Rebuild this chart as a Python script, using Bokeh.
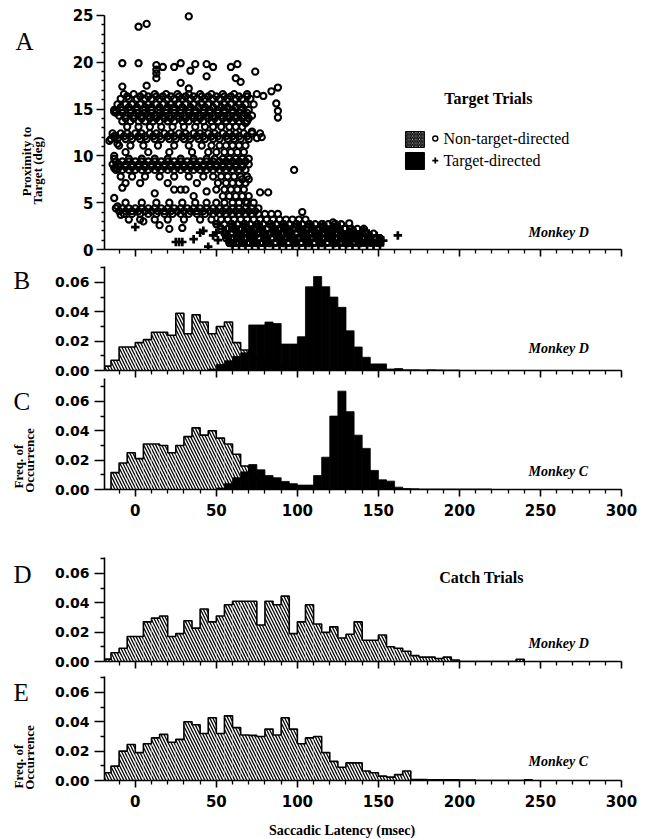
import math
from bokeh.plotting import figure
from bokeh.layouts import column, row
from bokeh.models import Range1d, FixedTicker, Label, PrintfTickFormatter
from bokeh.embed import file_html
from bokeh.resources import INLINE

# ---------------- data ----------------
BIN0 = -20.0   # left edge of first histogram bin (ms)
BINW = 5.0     # bin width (ms)

# Panel B (target trials, Monkey D)
b_nontarget = [0.003, 0.007, 0.016, 0.016, 0.019, 0.021, 0.026, 0.026, 0.024, 0.039,
               0.025, 0.038, 0.033, 0.025, 0.030, 0.033, 0.019, 0.014, 0.010, 0.007,
               0.005, 0.003, 0.002, 0.001]
b_target = [0, 0, 0, 0, 0, 0, 0, 0, 0, 0, 0, 0, 0, 0.001, 0.004, 0.0066, 0.0095, 0.012,
            0.031, 0.031, 0.033, 0.032, 0.018, 0.018, 0.023, 0.057, 0.064, 0.057, 0.050,
            0.043, 0.027, 0.016, 0.009, 0.0045, 0.0045, 0.001, 0.0013, 0.0005, 0.0005,
            0.0004, 0.0005, 0.0004, 0.0003, 0.0003]

# Panel C (target trials, Monkey C)
c_nontarget = [0, 0.0115, 0.018, 0.025, 0.021, 0.031, 0.031, 0.030, 0.025, 0.030,
               0.036, 0.042, 0.037, 0.040, 0.035, 0.031, 0.024, 0.016, 0.010, 0.006,
               0.003, 0.002, 0.001]
c_target = [0, 0, 0, 0, 0, 0, 0, 0, 0, 0, 0, 0, 0, 0, 0.001, 0.004, 0.008, 0.012,
            0.017, 0.0134, 0.0095, 0.008, 0.0055, 0.004, 0.003, 0.003, 0.0095, 0.022,
            0.050, 0.067, 0.053, 0.037, 0.028, 0.013, 0.0066, 0.0057, 0.0016, 0.0007,
            0.0005, 0.0003, 0.0003, 0.0003, 0.0003, 0.0003, 0.0003, 0.0003, 0.0003, 0.0003]

# Panel D (catch trials, Monkey D)
d_catch = [0.0016, 0.006, 0.009, 0.017, 0.017, 0.027, 0.0295, 0.031, 0.017, 0.019,
           0.0277, 0.0227, 0.0357, 0.027, 0.031, 0.0386, 0.041, 0.041, 0.041, 0.0248,
           0.041, 0.0386, 0.0445, 0.019, 0.027, 0.0386, 0.0255, 0.0198, 0.0236, 0.016,
           0.0186, 0.027, 0.0145, 0.0145, 0.018, 0.010, 0.009, 0.007, 0.004, 0.003,
           0.003, 0.002, 0.003, 0.001, 0, 0, 0, 0, 0, 0, 0, 0.0015]

# Panel E (catch trials, Monkey C)
e_catch = [0.0053, 0.0098, 0.020, 0.0245, 0.019, 0.025, 0.029, 0.0314, 0.026, 0.028,
           0.040, 0.038, 0.032, 0.0427, 0.032, 0.044, 0.036, 0.031, 0.0307, 0.030,
           0.035, 0.031, 0.0427, 0.035, 0.025, 0.029, 0.030, 0.019, 0.013, 0.009,
           0.012, 0.012, 0.0065, 0.0053, 0.003, 0.0023, 0.004, 0.0065, 0.0007, 0.0007,
           0.0005, 0.0005, 0.0004, 0.0004, 0.0003, 0.0003, 0, 0, 0, 0, 0, 0, 0.0005]

# Panel A scatter: non-target-directed (circles), isolated points
nt_x = [2, 7, 33, -8, 2, 13, 13, 13, 13, 17, 24, 28, 34, 37, 44, 44, 48, 59, 63, 62, 65, 74,
        -8, 7, 28, 33, 88, 84, 79, 87, 88, 88, 98, 103, 122, 132, -16, -13, -13, -11, -13,
        -13, -11, -13, -11, -8, 12, 28, 31, 44, 21, 29, 15, 5, -9, 77, 82, 68, 70, 66, 75,
        78, 72, 68, 70]
nt_y = [23.8, 24.1, 24.9, 19.9, 19.9, 19.7, 19.2, 18.8, 18.3, 19.5, 19.5, 19.9, 19.1, 19.8,
        19.8, 18.5, 19.5, 19.5, 19.8, 18.3, 17.9, 19.0, 17.4, 17.5, 17.8, 17.2, 17.3, 16.9,
        16.4, 15.6, 14.8, 14.1, 8.5, 4.0, 2.9, 2.8, 11.6, 14.7, 12.1, 11.3, 10.0, 8.7, 8.6,
        5.5, 4.6, 6.6, 6.0, 6.4, 6.4, 6.2, 2.2, 2.3, 2.6, 3.0, 3.7, 6.1, 6.1, 5.1, 7.5, 7.5,
        11.9, 12.0, 12.6, 13.5, 14.0]

# Panel A scatter: non-target-directed, dense bands (row proximity, latencies)
band_y = [16.6, 16.35, 16.1, 15.5, 15.2, 14.9, 14.6, 14.3, 14.0, 13.7, 13.1, 12.4, 12.1,
          11.8, 11.1, 10.4, 9.7, 9.4, 9.1, 8.8, 8.5, 7.8, 7.1, 6.4, 5.7, 5.0, 4.4, 4.1, 3.8,
          3.2, 2.7, 2.2, 1.7, 1.2, 0.7]
band_x = [
    [-7, -1, 5, 12, 19, 26, 33, 40, 47, 54, 61, 69, 75],
    [-5, 3, 8, 13, 17, 22, 27, 31, 36, 41, 45, 50, 55, 59, 64, 69],
    [-9, -4, 1, 6, 10, 15, 20, 24, 29, 34, 38, 43, 48, 52, 57, 62, 66, 71],
    [-11, -6, -2, 3, 8, 13, 17, 22, 27, 31, 36, 41, 45, 50, 55, 59, 64, 68, 73],
    [-9, -4, 1, 6, 10, 15, 20, 24, 29, 34, 39, 43, 48, 53, 57, 62, 66],
    [-13, -8, -3, 1, 5, 10, 14, 19, 24, 28, 33, 37, 42, 46, 51, 55, 60, 65, 70],
    [-12, -8, -3, 2, 6, 10, 15, 19, 24, 28, 33, 37, 42, 46, 51, 55, 60, 64, 69],
    [-10, -6, -1, 4, 8, 12, 17, 21, 26, 30, 35, 39, 44, 48, 53, 57, 62, 67, 72],
    [-6, -1, 4, 9, 13, 18, 22, 27, 31, 36, 40, 45, 49, 54, 58, 62, 66],
    [-8, -3, 2, 6, 11, 15, 20, 24, 29, 33, 38, 42, 47, 51, 56, 60, 64, 69],
    [-5, 2, 9, 16, 23, 30, 37, 43, 48, 53, 58, 62, 66],
    [-14, -9, -5, 0, 4, 9, 13, 18, 22, 27, 31, 36, 40, 45, 49, 54, 58, 62, 67, 72, 77],
    [-12, -7, -3, 2, 6, 11, 15, 20, 24, 29, 33, 38, 42, 47, 51, 56, 60, 64, 69],
    [-15, -11, -6, -2, 3, 7, 12, 16, 21, 25, 30, 34, 39, 43, 48, 52, 57, 61, 65, 70],
    [-10, -3, 5, 14, 24, 33, 41, 47, 52, 56, 60, 64, 68],
    [-6, 8, 21, 35, 45, 50, 55, 59, 63, 67],
    [-13, -4, 4, 12, 20, 28, 36, 44, 49, 54, 58, 62, 66, 70],
    [-12, -8, -4, 0, 4, 8, 12, 16, 20, 24, 28, 32, 36, 40, 44, 48, 52, 56, 60, 64, 68],
    [-14, -10, -6, -2, 2, 6, 10, 14, 18, 22, 26, 30, 34, 38, 42, 46, 50, 54, 58, 62, 66, 70],
    [-10, -6, -2, 2, 6, 10, 14, 18, 22, 26, 30, 34, 38, 42, 46, 50, 54, 58, 62, 66],
    [-12, -8, -4, 0, 4, 8, 12, 16, 20, 24, 28, 32, 36, 40, 44, 48, 52, 56, 60, 64, 68],
    [-9, -2, 6, 15, 24, 33, 42, 48, 53, 57, 61, 65, 69],
    [-6, 3, 20, 38, 51, 56, 60, 64, 68],
    [24, 50, 55, 59, 63, 67],
    [36, 54, 58, 62, 66, 70],
    [-6, 4, 13, 21, 29, 37, 44, 50, 55, 60, 64, 69, 73],
    [-12, -8, -4, 0, 4, 8, 12, 16, 20, 24, 28, 32, 36, 40, 44, 48, 52, 56, 60, 64, 68, 72, 76],
    [-10, -6, -2, 2, 6, 10, 14, 18, 22, 26, 30, 34, 38, 42, 46, 50, 54, 58, 62, 66, 70, 74],
    [-7, -2, 3, 8, 13, 18, 23, 28, 33, 38, 43, 48, 52, 56, 60, 64, 68, 72, 76, 80, 84, 88],
    [-4, 3, 12, 20, 30, 40, 47, 53, 57, 61, 65, 69, 73, 77, 81, 85, 89, 93, 97, 101, 105],
    [50, 55, 59, 63, 67, 71, 75, 79, 83, 87, 91, 95, 99, 103, 107, 111, 115, 119, 123, 127],
    [53, 57, 61, 65, 69, 73, 77, 81, 85, 89, 93, 97, 101, 105, 109, 113, 117, 121, 125, 129,
     133, 137, 141],
    [55, 59, 63, 67, 71, 75, 79, 83, 87, 91, 95, 99, 103, 107, 111, 115, 119, 123, 127, 131,
     135, 139, 143, 147],
    [56, 60, 64, 68, 72, 76, 80, 84, 88, 92, 96, 100, 104, 108, 112, 116, 120, 124, 128, 132,
     136, 140, 144, 148, 151],
    [58, 62, 66, 70, 74, 78, 82, 86, 90, 94, 98, 102, 106, 110, 114, 118, 122, 126, 130, 134,
     138, 142, 146, 150],
]

# Panel A scatter: target-directed (plus), isolated points
td_x = [0, 27, 29, 36, 40, 42, 45, 51, 48, 162, 25, 50]
td_y = [2.4, 0.8, 0.8, 1.1, 1.8, 2.0, 0.3, 1.0, 1.5, 1.5, 0.8, 1.8]

# Panel A scatter: target-directed, dense rows inside the latency 55-155 ms cloud
tband_y = [2.7, 2.45, 2.2, 1.95, 1.7, 1.45, 1.2, 0.95, 0.7, 0.45]
tband_x = [
    [51, 60, 68, 76, 84, 92, 100, 108, 116, 124],
    [61, 66, 73, 78, 85, 90, 97, 102, 109, 114, 121, 126],
    [54, 62, 70, 78, 86, 94, 102, 110, 118, 126, 134, 141],
    [58, 63, 67, 71, 75, 80, 84, 88, 92, 96, 101, 105, 110, 114, 118, 122, 127, 131, 135, 139],
    [56, 64, 72, 80, 88, 96, 104, 112, 120, 128, 136, 144],
    [57, 61, 65, 69, 74, 78, 82, 86, 90, 94, 98, 103, 107, 111, 115, 119, 123, 128, 132, 136,
     140, 145, 149],
    [57, 65, 73, 81, 89, 97, 105, 113, 121, 129, 137, 145, 151],
    [58, 62, 66, 71, 75, 79, 83, 88, 92, 96, 100, 104, 108, 112, 117, 121, 125, 129, 133, 137,
     142, 146, 150, 153],
    [59, 67, 75, 83, 91, 99, 107, 115, 123, 131, 139, 147],
    [60, 64, 68, 72, 76, 80, 85, 89, 93, 97, 101, 105, 109, 113, 117, 122, 126, 130, 134, 138,
     143, 147, 151],
]

# axis ticks
X_MAJOR = [0, 50, 100, 150, 200, 250, 300]
X_MINOR = [-10, 10, 20, 30, 40, 60, 70, 80, 90, 110, 120, 130, 140, 160, 170, 180, 190,
           210, 220, 230, 240, 260, 270, 280, 290]
A_YMAJOR = [0, 5, 10, 15, 20, 25]
A_YMINOR = [1, 2, 3, 4, 6, 7, 8, 9, 11, 12, 13, 14, 16, 17, 18, 19, 21, 22, 23, 24]
H_YMAJOR = [0.0, 0.02, 0.04, 0.06]
H_YMINOR = [0.01, 0.03, 0.05, 0.07]

# ---------------- styling / layout ----------------
XMIN, XMAX = -19, 300
GW = 48                # width of left text gutter
MW = 592               # width of main plot figures
HA, HB, HC, HD, HE, HS = 258, 120, 147, 144, 147, 22
HG = HA + HB + HC + HD + HE     # gutter height (page rows 0..816)
SERIF = "Liberation Serif"
SANS = "DejaVu Sans"
ROT = math.pi / 2
HATCH = dict(hatch_pattern="\\", hatch_color="black", hatch_scale=6, hatch_weight=1.3)


def base_fig(height, top, bottom, ymax, show_labels):
    p = figure(width=MW, height=height, x_range=Range1d(XMIN, XMAX), y_range=Range1d(0, ymax),
               output_backend="svg", toolbar_location=None, tools="",
               min_border_left=104 - GW, min_border_right=19, min_border_top=top,
               min_border_bottom=bottom)
    p.outline_line_color = None
    p.grid.visible = False
    p.background_fill_color = "white"
    p.border_fill_color = "white"
    xa = p.xaxis[0]
    xa.ticker = FixedTicker(ticks=X_MAJOR, minor_ticks=X_MINOR)
    xa.bounds = (XMIN, 300)
    xa.axis_line_width = 1.6
    xa.major_tick_line_width = 1.6
    xa.minor_tick_line_width = 1.3
    xa.major_tick_out = 7
    xa.major_tick_in = 0
    xa.minor_tick_out = 4
    xa.minor_tick_in = 0
    if show_labels:
        xa.major_label_text_font = SANS
        xa.major_label_text_font_style = "bold"
        xa.major_label_text_font_size = "15px"
        xa.major_label_text_color = "black"
        xa.major_label_standoff = 7
    else:
        xa.major_label_overrides = {t: "" for t in X_MAJOR}
        xa.major_label_text_font_size = "1px"
        xa.major_label_standoff = 0
    ya = p.yaxis[0]
    ya.axis_line_width = 1.6
    ya.major_tick_line_width = 1.6
    ya.minor_tick_line_width = 1.3
    ya.major_tick_in = 0
    ya.minor_tick_in = 0
    ya.major_label_text_font = SANS
    ya.major_label_text_font_style = "bold"
    ya.major_label_text_color = "black"
    return p


def hist_fig(height, top, bottom, ymax, show_labels):
    p = base_fig(height, top, bottom, ymax, show_labels)
    ya = p.yaxis[0]
    ya.ticker = FixedTicker(ticks=H_YMAJOR, minor_ticks=H_YMINOR)
    ya.formatter = PrintfTickFormatter(format="%.2f")
    ya.major_tick_out = 10
    ya.minor_tick_out = 4
    ya.major_label_standoff = 5
    ya.major_label_text_font_size = "14px"
    return p


def text_fig(width, height):
    # plain text strip; x = page column, y = pixels up from the strip's bottom
    g = figure(width=width, height=height, x_range=Range1d(0, width), y_range=Range1d(0, height),
               output_backend="svg", toolbar_location=None, tools="",
               x_axis_type=None, y_axis_type=None, min_border=0,
               min_border_left=0, min_border_right=0, min_border_top=0, min_border_bottom=0)
    g.outline_line_color = None
    g.grid.visible = False
    g.background_fill_color = "white"
    g.border_fill_color = "white"
    return g


def draw_hist(p, vals, hatched):
    left = [BIN0 + BINW * i for i in range(len(vals))]
    right = [l + BINW for l in left]
    if hatched:
        p.quad(left=left, right=right, bottom=0, top=vals, fill_color="white",
               line_color=None, **HATCH)
        xs = left + [right[-1]]
        ys = list(vals) + [0]
        p.step(xs, ys, mode="after", line_color="black", line_width=1.6)
    else:
        p.quad(left=left, right=right, bottom=0, top=vals, fill_color="black",
               line_color="black", line_width=0.8)


def lab(p, x, y, text, size, style="normal", font=SERIF, align="left", base="middle", angle=0.0):
    p.add_layout(Label(x=x, y=y, text=text, text_font=font, text_font_size=size,
                       text_font_style=style, text_color="black", text_align=align,
                       text_baseline=base, angle=angle))


def monkey(p, y, name):
    lab(p, 242.6, y, name, "14px", style="bold italic")


# ---- Panel A ----
pA = base_fig(HA, 10, 9, 25.53, False)
ya = pA.yaxis[0]
ya.ticker = FixedTicker(ticks=A_YMAJOR, minor_ticks=A_YMINOR)
ya.bounds = (0, 25)
ya.major_tick_out = 8
ya.minor_tick_out = 3
ya.major_label_standoff = 3
ya.major_label_text_font_size = "15px"

cx, cy = [], []
for yy, r in zip(band_y, band_x):
    cx += r
    cy += [yy] * len(r)
cx += nt_x
cy += nt_y
tx, ty = list(td_x), list(td_y)
for yy, r in zip(tband_y, tband_x):
    tx += r
    ty += [yy] * len(r)

pA.scatter(cx, cy, marker="circle", size=6.2, fill_color=None, line_color="black",
           line_width=2.1)
pA.scatter(tx, ty, marker="cross", size=8.5, line_color="black", line_width=2.7)

# legend (drawn manually)
pA.quad(left=[166.7], right=[178.4], bottom=[10.9], top=[12.6], fill_color="white",
        line_color="black", line_width=1, hatch_pattern="\\", hatch_color="black",
        hatch_scale=3.5, hatch_weight=1.3)
pA.quad(left=[166.7], right=[178.4], bottom=[8.55], top=[10.36], fill_color="black",
        line_color="black")
pA.scatter([185.1], [11.86], marker="circle", size=5, fill_color=None, line_color="black",
           line_width=1.4)
pA.scatter([185.1], [9.5], marker="cross", size=6, line_color="black", line_width=1.8)
lab(pA, 217.9, 16.1, "Target Trials", "16px", style="bold", align="center")
lab(pA, 190.1, 11.86, "Non-target-directed", "16px")
lab(pA, 190.1, 9.5, "Target-directed", "16px")
monkey(pA, 1.8, "Monkey D")

# ---- Panel B ----
pB = hist_fig(HB, 8, 8, 0.0708, False)
draw_hist(pB, b_nontarget, True)
draw_hist(pB, b_target, False)
monkey(pB, 0.015, "Monkey D")

# ---- Panel C ----
pC = hist_fig(HC, 0, 36, 0.0756, True)
draw_hist(pC, c_nontarget, True)
draw_hist(pC, c_target, False)
monkey(pC, 0.0123, "Monkey C")

# ---- Panel D ----
pD = hist_fig(HD, 32, 8, 0.0708, False)
draw_hist(pD, d_catch, True)
monkey(pD, 0.0123, "Monkey D")
lab(pD, 213.6, 0.0572, "Catch Trials", "16px", style="bold", align="center")

# ---- Panel E ----
pE = hist_fig(HE, 7, 36, 0.0708, True)
draw_hist(pE, e_catch, True)
monkey(pE, 0.0129, "Monkey C")

# ---- left gutter: panel letters and y-axis titles (y = HG - page row) ----
g = text_fig(GW, HG)
for letter, px, prow in [("A", 15, 41), ("B", 13, 280), ("C", 13, 401), ("D", 13, 574),
                         ("E", 13, 692)]:
    lab(g, px, HG - prow, letter, "25px", base="middle")
for text, px, prow in [("Proximity to", 26, 161), ("Target (deg)", 37, 170),
                       ("Freq. of", 18, 466), ("Occurrence", 29, 460),
                       ("Freq. of", 18, 766), ("Occurrence", 29, 757)]:
    lab(g, px, HG - prow, text, "13px", style="bold", align="center", angle=ROT)

# ---- bottom strip with x-axis title ----
gS = text_fig(GW + MW, HS)
lab(gS, 341.5, (HG + HS) - 830, "Saccadic Latency (msec)", "14px", style="bold",
    align="center")

layout = column(
    row(g, column(pA, pB, pC, pD, pE, spacing=0), spacing=0),
    gS,
    spacing=0,
)

open("out.html", "w").write(file_html(layout, INLINE))
